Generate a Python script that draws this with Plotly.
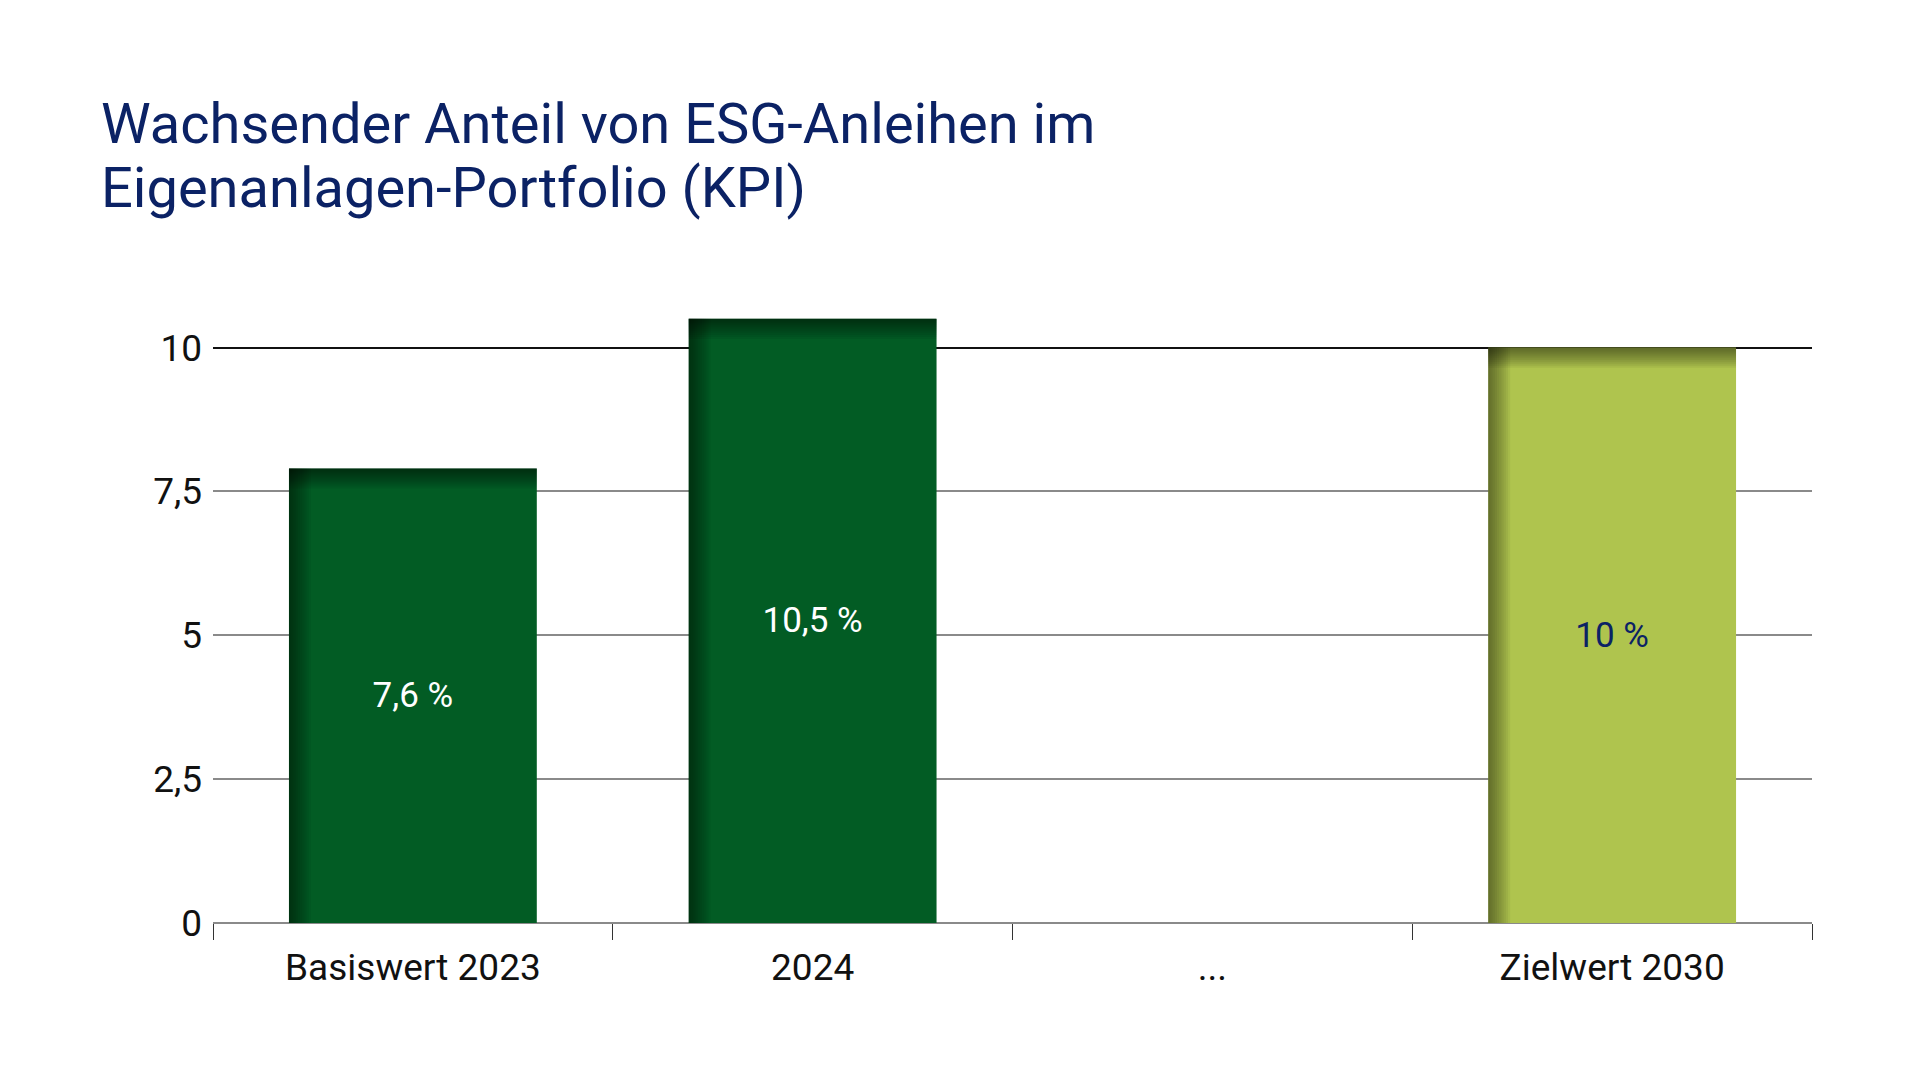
import plotly.graph_objects as go

# Data
categories = ["Basiswert 2023", "2024", "...", "Zielwert 2030"]
share_values = [7.9, 10.5, None, 10.0]
share_labels = ["7,6 %", "10,5 %", "", "10 %"]
y_ticks = [0, 2.5, 5, 7.5, 10]

title_lines = ["Wachsender Anteil von ESG-Anleihen im", "Eigenanlagen-Portfolio (KPI)"]

# Styling
FONT = "Roboto, Arial, sans-serif"
NAVY = "#0b2265"
DARK_GREEN = "#025c24"
LIGHT_GREEN = "#afc44e"
bar_colors = [DARK_GREEN, DARK_GREEN, DARK_GREEN, LIGHT_GREEN]
label_colors = ["white", "white", "white", NAVY]

BAR_W = 0.62
N_LAYERS = 10
Y_RANGE = [0, 11]

fig = go.Figure()

# empty trace so the overlaying axis (dark top gridline) gets drawn
fig.add_trace(go.Bar(x=categories, y=[None] * len(categories), yaxis="y2",
                     hoverinfo="skip", showlegend=False))

# main bars
fig.add_trace(go.Bar(
    x=categories, y=share_values,
    width=BAR_W,
    marker=dict(color=bar_colors, line=dict(width=0)),
    text=share_labels,
    textposition="inside",
    insidetextanchor="middle",
    textangle=0,
    textfont=dict(family=FONT, size=35, color=label_colors),
    hoverinfo="skip",
    showlegend=False,
))

# fake gradient shading on the top edge of each bar
for k in range(1, N_LAYERS + 1):
    h = 0.035 * k
    fig.add_trace(go.Bar(
        x=categories,
        y=[h if v is not None else None for v in share_values],
        base=[v - h if v is not None else None for v in share_values],
        width=BAR_W,
        marker=dict(color="black", opacity=0.055, line=dict(width=0)),
        hoverinfo="skip", showlegend=False,
    ))

# fake gradient shading on the left edge of each bar
for k in range(1, N_LAYERS + 1):
    w = 0.0055 * k
    fig.add_trace(go.Bar(
        x=categories, y=share_values,
        width=w, offset=-BAR_W / 2,
        marker=dict(color="black", opacity=0.05, line=dict(width=0)),
        hoverinfo="skip", showlegend=False,
    ))

# two-line title, placed as annotations for tighter line spacing
for i, line in enumerate(title_lines):
    fig.add_annotation(
        text=line, showarrow=False,
        xref="paper", yref="paper",
        x=-0.0715, xanchor="left",
        y=1.262 - 0.101 * i, yanchor="middle",
        font=dict(family=FONT, size=56, color=NAVY),
    )

fig.update_layout(
    width=1920, height=1080,
    paper_bgcolor="white", plot_bgcolor="white",
    barmode="overlay",
    separators=",.",
    margin=dict(l=205, r=116, t=282, b=165),
    font=dict(family=FONT, color="#111111"),
    xaxis=dict(
        type="category",
        categoryorder="array", categoryarray=categories,
        tickson="boundaries",
        ticks="outside", ticklen=16, tickcolor="#333333", tickwidth=1,
        showline=False, showgrid=False,
        ticklabelstandoff=19,
        tickfont=dict(family=FONT, size=37, color="#111111"),
    ),
    yaxis=dict(
        range=Y_RANGE,
        tickvals=y_ticks,
        showgrid=True, gridcolor="#8a8a8a", gridwidth=1.5,
        zeroline=True, zerolinecolor="#8a8a8a", zerolinewidth=1.5,
        showline=False, ticks="",
        ticklabelstandoff=10,
        tickfont=dict(family=FONT, size=37, color="#111111"),
    ),
    yaxis2=dict(
        overlaying="y", side="left",
        range=Y_RANGE,
        tickvals=[max(y_ticks)],
        showgrid=True, gridcolor="#111111", gridwidth=1.5,
        zeroline=False, showline=False, ticks="",
        showticklabels=False,
    ),
)

fig.write_html("out.html")
